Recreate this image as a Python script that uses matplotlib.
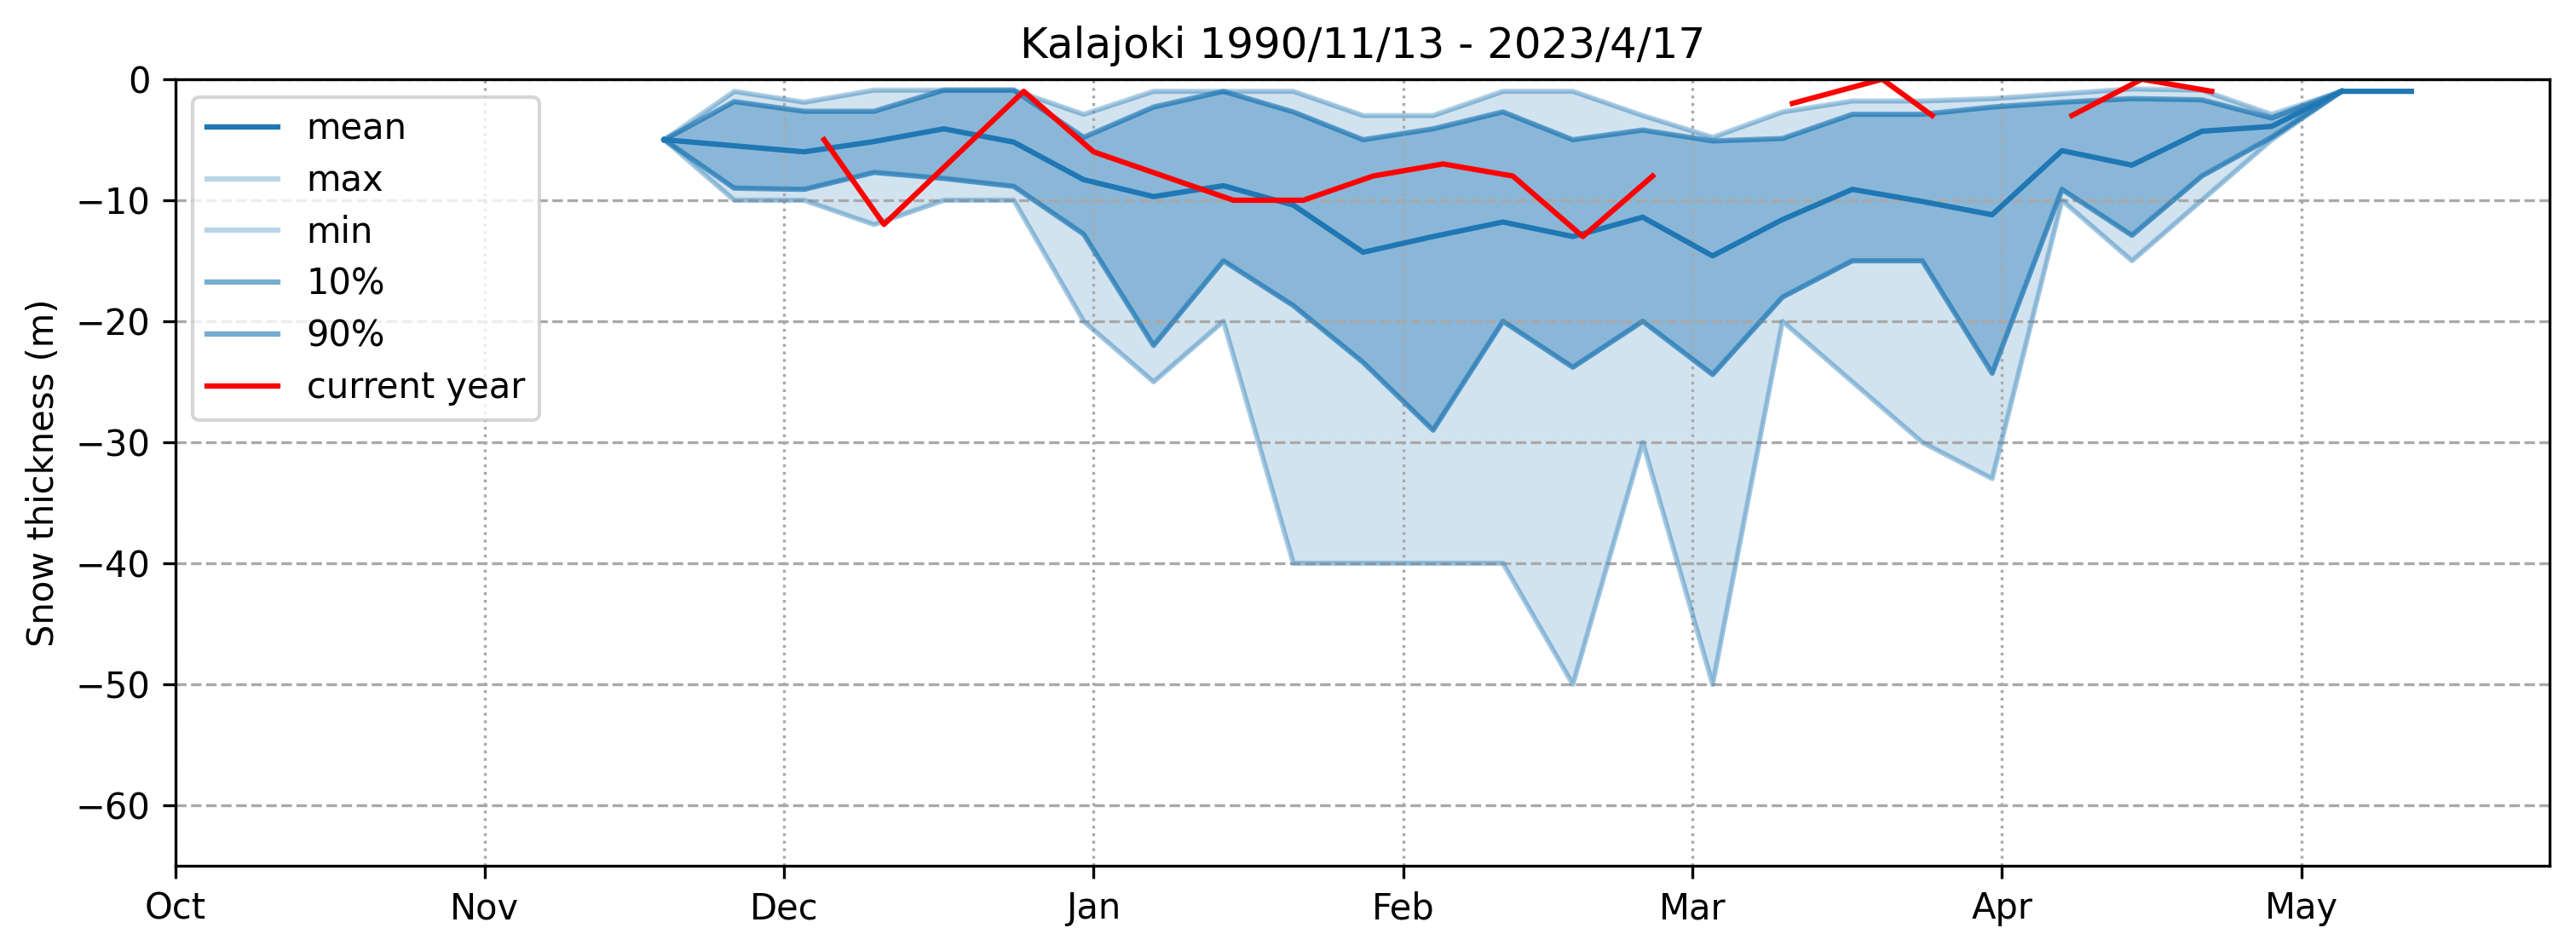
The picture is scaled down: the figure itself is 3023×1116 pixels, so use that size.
import numpy as np
import pandas as pd
import matplotlib
matplotlib.use("Agg")
import matplotlib.pyplot as plt
import matplotlib.dates as mdates

# weekly climatology dates
dates = pd.date_range("2023-11-19", "2024-05-12", freq="7D")

mean_v = [-5, -5.5, -6.0, -5.15, -4.1, -5.2, -8.3, -9.7, -8.8, -10.4, -14.3, -13.0, -11.8,
          -13.0, -11.4, -14.6, -11.6, -9.1, -10.1, -11.2, -5.9, -7.1, -4.3, -3.9, -1, -1]
max_v = [-5, -1, -1.9, -0.9, -0.9, -0.9, -2.9, -1, -1, -1, -3, -3, -1,
         -1, -3, -4.8, -2.7, -1.8, -1.8, -1.6, -1.2, -0.8, -0.9, -2.9, -1, np.nan]
p90_v = [-5, -1.85, -2.65, -2.65, -0.9, -0.9, -4.8, -2.3, -1.0, -2.7, -5.0, -4.1, -2.7,
         -5.0, -4.2, -5.1, -4.9, -2.9, -2.9, -2.3, -1.9, -1.6, -1.7, -3.2, -1, np.nan]
p10_v = [-5, -9.0, -9.1, -7.7, -8.2, -8.85, -12.8, -22.0, -15.0, -18.7, -23.4, -29.0, -20.0,
         -23.8, -20.0, -24.4, -18.0, -15.0, -15.0, -24.3, -9.1, -12.9, -8.0, -4.8, -1, np.nan]
min_v = [-5, -10, -10, -12, -10, -10, -20, -25, -20, -40, -40, -40, -40,
         -50, -30, -50, -20, -25, -30, -33, -10, -15, -10, -5, -1, np.nan]

# current year observations (NaN = gap)
cur_dates = pd.to_datetime(["2023-12-05", "2023-12-11", "2023-12-25", "2024-01-01",
                            "2024-01-15", "2024-01-22", "2024-01-29", "2024-02-05",
                            "2024-02-12", "2024-02-19", "2024-02-26", "2024-03-04",
                            "2024-03-11", "2024-03-20", "2024-03-25", "2024-04-01",
                            "2024-04-08", "2024-04-15", "2024-04-22"])
cur_v = [-5, -12, -1, -6, -10, -10, -8, -7, -8, -13, -8, np.nan,
         -2, 0, -3, np.nan, -3, 0, -1]

title = "Kalajoki 1990/11/13 - 2023/4/17"

fig, ax = plt.subplots(figsize=(3023 / 300, 1116 / 300), dpi=300)
fig.subplots_adjust(left=0.068, right=0.9897, top=0.9167, bottom=0.0896)

c = "tab:blue"
ax.plot(dates, mean_v, color=c, label="mean")
ax.plot(dates, max_v, color=c, alpha=0.3, label="max")
ax.plot(dates, min_v, color=c, alpha=0.3, label="min")
ax.plot(dates, p10_v, color=c, alpha=0.6, label="10%")
ax.plot(dates, p90_v, color=c, alpha=0.6, label="90%")
ax.fill_between(dates, min_v, max_v, color=c, alpha=0.2)
ax.fill_between(dates, p10_v, p90_v, color=c, alpha=0.4)
ax.plot(cur_dates, cur_v, color="red", label="current year")

ax.set_xlim(pd.Timestamp("2023-10-01"), pd.Timestamp("2024-05-25 20:00"))
ax.set_ylim(-65, 0)
ax.xaxis.set_major_locator(mdates.MonthLocator())
ax.xaxis.set_major_formatter(mdates.DateFormatter("%b"))
ax.yaxis.grid(True, linestyle="--", color="darkgrey")
ax.xaxis.grid(True, linestyle=":", color="darkgrey")
ax.set_ylabel("Snow thickness (m)")
ax.set_title(title)
ax.legend(loc="upper left", labelspacing=0.45)

fig.savefig("out.png", dpi=300)
